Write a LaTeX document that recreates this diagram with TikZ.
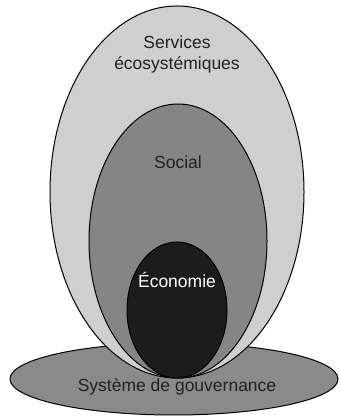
\documentclass[tikz,border=0pt]{standalone}
\usepackage{fontspec}
\setmainfont{Liberation Sans}
\usetikzlibrary{shapes.geometric,positioning}
\definecolor{servgray}{HTML}{CFCFCF}
\definecolor{socgray}{HTML}{858585}
\definecolor{ecogray}{HTML}{1C1C1C}
\definecolor{govgray}{HTML}{8A8A8A}
\definecolor{txtgray}{HTML}{222222}
\tikzset{
  sphere/.style={ellipse, draw=black, line width=1pt, inner sep=0pt, outer sep=0pt},
  lbl/.style={text=txtgray, align=center, inner sep=0pt, font=\fontsize{17.5}{21}\selectfont}
}

\begin{document}
\begin{tikzpicture}[x=1pt,y=1pt]
    \useasboundingbox (0,0) rectangle (340,419);

    % systeme de gouvernance (socle)
    \node[sphere, fill=govgray, minimum width=328, minimum height=72] (gov) at (174,40) {};

    % spheres emboitees
    \node[sphere, fill=servgray, minimum width=254, minimum height=372] (serv) at (177,227) {};
    \node[sphere, fill=socgray, minimum width=178, minimum height=274] (soc) at (178,178) {};
    \node[sphere, fill=ecogray, minimum width=100, minimum height=136] (eco) at (177,109) {};

    % textes
    \node[lbl] (servtxt) at (177,365) {Services\\écosystémiques};
    \node[lbl] (soctxt) at (178,257) {Social};
    \node[lbl, text=white] (ecotxt) at (177,139) {Économie};
    \node[lbl] (govtxt) at (177,32) {Système de gouvernance};
\end{tikzpicture}
\end{document}
